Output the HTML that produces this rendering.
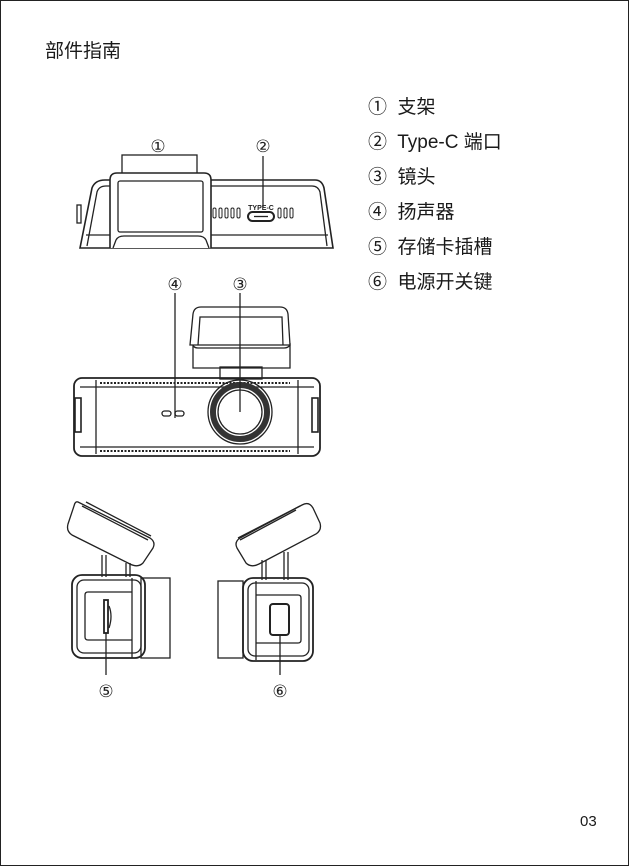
<!DOCTYPE html>
<html><head><meta charset="utf-8"><style>
html,body{margin:0;padding:0;background:#fff}
.page{position:relative;width:627px;height:864px;border:1px solid #222;overflow:hidden;font-family:"Liberation Sans","Noto Sans CJK SC",sans-serif;color:#1a1a1a}
.t{position:absolute;white-space:nowrap}
</style></head><body><div class="page">
<div class="t" style="left:44px;top:35px;font-size:19px">部件指南</div>
<div class="t" style="left:367px;top:89px;font-size:19px;line-height:35px">
<div>①&nbsp; 支架</div><div>②&nbsp; Type-C 端口</div><div>③&nbsp; 镜头</div><div>④&nbsp; 扬声器</div><div>⑤&nbsp; 存储卡插槽</div><div>⑥&nbsp; 电源开关键</div>
</div>
<div class="t" style="left:579px;top:812px;font-size:15px">03</div>
<svg width="629" height="866" style="position:absolute;left:-1px;top:-1px" fill="none" stroke="#222" stroke-width="1.3" font-family="Liberation Serif,serif">
<text x="158" y="152" font-size="17" fill="#222" stroke="none" text-anchor="middle">①</text>
<text x="263" y="152" font-size="17" fill="#222" stroke="none" text-anchor="middle">②</text>
<path d="M80 248 L92 188 Q95 180 105 180 L315 180 Q322 180 324 188 L333 248 Z" stroke-width="1.6"/>
<path d="M87 246 L97 192 Q99 186 106 186 L312 186 Q318 186 320 192 L327 246"/>
<line x1="86" y1="235" x2="328" y2="235"/>
<rect x="77" y="205" width="4" height="18"/>
<rect x="122" y="155" width="75" height="20"/>
<path d="M110 248 L110 180 Q110 173 117 173 L204 173 Q211 173 211 180 L211 248" stroke-width="1.6" fill="#fff"/>
<rect x="118" y="181" width="85" height="51" rx="2"/>
<path d="M113 248 L116 240 Q118 236 124 236 L198 236 Q204 236 206 240 L209 248"/>
<g stroke-width="1"><rect x="213" y="208" width="3" height="10" rx="1.5"/><rect x="219" y="208" width="3" height="10" rx="1.5"/><rect x="225" y="208" width="3" height="10" rx="1.5"/><rect x="231" y="208" width="3" height="10" rx="1.5"/><rect x="237" y="208" width="3" height="10" rx="1.5"/>
<rect x="278" y="208" width="3" height="10" rx="1.5"/><rect x="284" y="208" width="3" height="10" rx="1.5"/><rect x="290" y="208" width="3" height="10" rx="1.5"/></g>
<text x="261" y="210" font-size="7" font-weight="bold" font-family="Liberation Sans" fill="#222" stroke="none" text-anchor="middle">TYPE-C</text>
<rect x="248" y="212" width="26" height="9" rx="4.5" stroke-width="2"/>
<line x1="254" y1="216.5" x2="268" y2="216.5"/>
<line x1="263" y1="156" x2="263" y2="207"/>
<text x="175" y="290" font-size="17" fill="#222" stroke="none" text-anchor="middle">④</text>
<text x="240" y="290" font-size="17" fill="#222" stroke="none" text-anchor="middle">③</text>
<path d="M190 345 L193 314 Q194 307 201 307 L280 307 Q287 307 288 314 L290 345 Z"/>
<path d="M198 345 L200 317 L282 317 L283 345"/>
<path d="M193 345 L193 368 L290 368 L290 345 Q288 348 284 348 L198 348 Q194 348 193 345"/>
<rect x="220" y="367" width="42" height="12"/>
<rect x="74" y="378" width="246" height="78" rx="8" stroke-width="1.8"/>
<line x1="96" y1="380" x2="96" y2="454"/><line x1="298" y1="380" x2="298" y2="454"/>
<line x1="80" y1="387" x2="314" y2="387"/><line x1="80" y1="447" x2="314" y2="447"/>
<line x1="100" y1="383" x2="290" y2="383" stroke-dasharray="2 1.5" stroke-width="2"/>
<line x1="100" y1="451" x2="290" y2="451" stroke-dasharray="2 1.5" stroke-width="2"/>
<rect x="75" y="398" width="6" height="34" stroke-width="1.6"/>
<rect x="312" y="398" width="6" height="34" stroke-width="1.6"/>
<circle cx="240" cy="412" r="32" stroke-width="1.3"/>
<circle cx="240" cy="412" r="27" stroke-width="6" stroke="#333"/>
<circle cx="240" cy="412" r="22" stroke-width="1.3"/>
<rect x="162" y="411" width="9" height="5" rx="2.5"/><rect x="175" y="411" width="9" height="5" rx="2.5"/>
<line x1="175" y1="293" x2="175" y2="418"/>
<line x1="240" y1="293" x2="240" y2="412"/>
<path d="M78 502 L150 538 Q156 542 153 548 L143 563 Q138 568 130 564 L72 535 Q66 531 68 524 L74 506 Q75 501 78 502 Z"/>
<path d="M82 506 L148 540"/><path d="M86 502 L151 536"/>
<line x1="102" y1="555" x2="102" y2="577"/><line x1="106" y1="555" x2="106" y2="577"/>
<line x1="126" y1="563" x2="126" y2="577"/><line x1="130" y1="563" x2="130" y2="577"/>
<rect x="72" y="575" width="73" height="83" rx="10" stroke-width="1.8"/>
<rect x="77" y="580" width="64" height="73" rx="7"/>
<rect x="141" y="578" width="29" height="80"/>
<line x1="132" y1="578" x2="132" y2="658"/>
<path d="M132 592 L88 592 Q85 592 85 595 L85 637 Q85 640 88 640 L132 640"/>
<rect x="104" y="600" width="4" height="33" stroke-width="1.8"/>
<path d="M109 606 Q113 616 109 628"/>
<line x1="106" y1="633" x2="106" y2="675"/>
<text x="106" y="697" font-size="17" fill="#222" stroke="none" text-anchor="middle">⑤</text>
<path d="M302 505 L240 538 Q234 542 237 548 L246 563 Q251 568 259 564 L316 534 Q322 530 320 523 L313 508 Q309 501 302 505 Z"/>
<path d="M296 510 L240 540"/><path d="M300 506 L238 538"/>
<line x1="262" y1="560" x2="262" y2="580"/><line x1="266" y1="560" x2="266" y2="580"/>
<line x1="284" y1="552" x2="284" y2="580"/><line x1="288" y1="552" x2="288" y2="580"/>
<rect x="243" y="578" width="70" height="83" rx="10" stroke-width="1.8"/>
<rect x="248" y="583" width="61" height="73" rx="7"/>
<rect x="218" y="581" width="25" height="77"/>
<line x1="256" y1="581" x2="256" y2="660"/>
<path d="M256 595 L298 595 Q301 595 301 598 L301 640 Q301 643 298 643 L256 643"/>
<rect x="270" y="604" width="19" height="31" rx="3" stroke-width="2"/>
<line x1="280" y1="635" x2="280" y2="675"/>
<text x="280" y="697" font-size="17" fill="#222" stroke="none" text-anchor="middle">⑥</text>
</svg>
</div></body></html>
